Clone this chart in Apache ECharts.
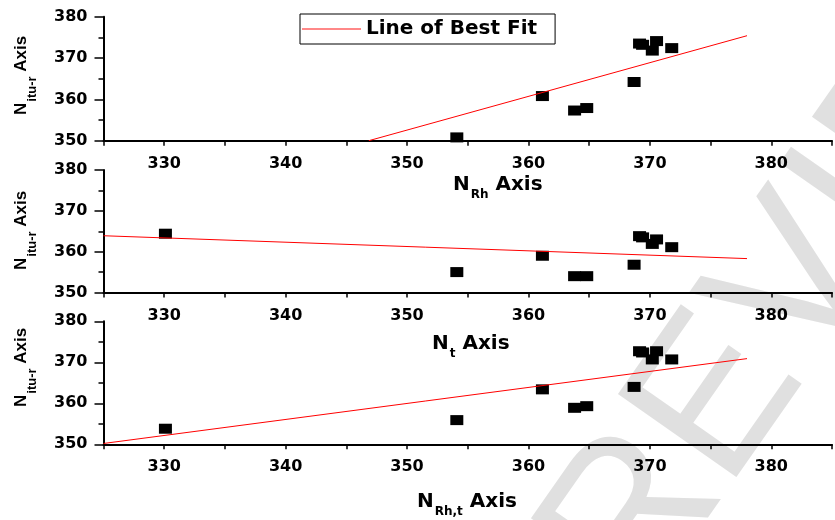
<!DOCTYPE html>
<html>
<head>
<meta charset="utf-8">
<style>
html, body { margin: 0; padding: 0; background: #fff; }
#main { width: 835px; height: 520px; }
</style>
<script src="https://cdn.jsdelivr.net/npm/echarts@6/dist/echarts.min.js"></script>
</head>
<body>
<div id="main"></div>
<script>
// axis ranges
const xRange = [325, 385];
const yRange = [350, 380];

// panel 1: N_Rh vs N_itu-r
const xRh = [354.1, 361.15, 363.8, 364.8, 368.7, 369.15, 369.4, 370.2, 370.55, 371.8];
const yRh = [350.8, 360.8, 357.3, 357.9, 364.2, 373.5, 373.2, 371.8, 374.1, 372.4];
// panels 2 and 3 share the x values
const xAll = [330.1, 354.1, 361.15, 363.8, 364.8, 368.7, 369.15, 369.4, 370.2, 370.55, 371.8];
const yT = [364.4, 355.0, 359.0, 354.0, 354.0, 356.8, 363.8, 363.5, 361.9, 363.0, 361.1];
const yRhT = [353.8, 355.9, 363.4, 358.9, 359.3, 364.0, 372.7, 372.4, 370.7, 372.7, 370.7];

// best fit lines, end points [x, y]
const fitRh = [[346.85, 350], [378, 375.4]];
const fitT = [[325, 363.9], [378, 358.3]];
const fitRhT = [[325, 350.2], [378, 370.9]];

const FIT = 'Line of Best Fit';
const zip = (xs, ys) => xs.map((x, i) => [x, ys[i]]);

const myChart = echarts.init(document.getElementById('main'));

// measure text for the hand placed axis titles
const ctx = document.createElement('canvas').getContext('2d');
function tw(text, font) {
  ctx.font = font;
  return ctx.measureText(text).width;
}
function axisTitle(x, y, sub, rot, big, small, family, dy) {
  const fBig = 'bold ' + big + 'px ' + family;
  const fSmall = 'bold ' + small + 'px ' + family;
  const wN = tw('N', fBig);
  const wS = tw(sub, fSmall);
  const piece = (text, font, px, py) => ({
    type: 'text', x: px, y: py,
    style: { text: text, font: font, fill: '#000', verticalAlign: 'middle' }
  });
  return {
    type: 'group', x: x, y: y, rotation: rot,
    children: [
      piece('N', fBig, 0, 0),
      piece(sub, fSmall, wN + 1, dy),
      piece(' Axis', fBig, wN + 1 + wS, 0)
    ]
  };
}

const grids = [
  { left: 103.5, right: -6.5, top: 16.7, height: 124 },
  { left: 103.5, right: -6.5, top: 170, height: 122.5 },
  { left: 103.5, right: -6.5, top: 321.3, height: 123 }
];

const labelFont = { color: '#000', fontSize: 16, fontWeight: 'bold', fontFamily: 'DejaVu Sans' };

const xAxes = grids.map((g, i) => ({
  gridIndex: i,
  type: 'value',
  min: xRange[0],
  max: xRange[1],
  interval: 5,
  axisLine: { onZero: false, lineStyle: { color: '#000', width: 2 } },
  axisTick: { length: 5, lineStyle: { color: '#000', width: 1.5 } },
  axisLabel: Object.assign({
    margin: 15,
    formatter: v => (v % 10 === 0 ? String(v) : '')
  }, labelFont),
  splitLine: { show: false }
}));

const yAxes = grids.map((g, i) => ({
  gridIndex: i,
  type: 'value',
  min: yRange[0],
  max: yRange[1],
  interval: 10,
  axisLine: { show: true, onZero: false, lineStyle: { color: '#000', width: 2 } },
  axisTick: { show: true, length: 9, lineStyle: { color: '#000', width: 1.5 } },
  minorTick: { show: true, splitNumber: 2, length: 5, lineStyle: { color: '#000', width: 1.5 } },
  axisLabel: Object.assign({ margin: 16 }, labelFont),
  splitLine: { show: false }
}));

const scatter = (i, data) => ({
  type: 'scatter',
  name: 'data' + i,
  xAxisIndex: i,
  yAxisIndex: i,
  symbol: 'rect',
  symbolSize: [13, 10],
  itemStyle: { color: '#000', opacity: 1 },
  data: data
});
const fit = (i, data) => ({
  type: 'line',
  name: FIT,
  xAxisIndex: i,
  yAxisIndex: i,
  symbol: 'none',
  color: '#ff0000',
  lineStyle: { color: '#ff0000', width: 1 },
  data: data
});

const dv = '"DejaVu Sans"';
const lib = '"Liberation Sans"';

myChart.setOption({
  animation: false,
  backgroundColor: '#fff',
  grid: grids,
  xAxis: xAxes,
  yAxis: yAxes,
  legend: {
    data: [FIT],
    left: 300,
    top: 14,
    padding: [5, 18, 5, 2],
    icon: 'rect',
    itemWidth: 59,
    itemHeight: 1.5,
    itemStyle: { color: '#ff6060' },
    borderColor: '#000',
    borderWidth: 1,
    backgroundColor: '#fff',
    textStyle: { color: '#000', fontSize: 20, fontWeight: 'bold', fontFamily: 'DejaVu Sans' }
  },
  graphic: [
    {
      type: 'text', x: 592, y: 582, rotation: 55 * Math.PI / 180, z: -10,
      style: { text: 'REVIEW', font: '210px ' + lib, fill: '#e0e0e0', verticalAlign: 'middle' }
    },
    axisTitle(453, 184.5, 'Rh', 0, 20, 12, dv, 10),
    axisTitle(432, 343.5, 't', 0, 20, 12, dv, 10),
    axisTitle(417, 501.5, 'Rh,t', 0, 20, 12, dv, 10),
    axisTitle(21, 115, 'itu-r', Math.PI / 2, 17, 13, lib, 11),
    axisTitle(21, 270, 'itu-r', Math.PI / 2, 17, 13, lib, 11),
    axisTitle(21, 407, 'itu-r', Math.PI / 2, 17, 13, lib, 11)
  ],
  series: [
    scatter(0, zip(xRh, yRh)),
    scatter(1, zip(xAll, yT)),
    scatter(2, zip(xAll, yRhT)),
    fit(0, fitRh),
    fit(1, fitT),
    fit(2, fitRhT)
  ]
});

window.addEventListener('resize', function() {
  myChart.resize();
});
</script>
</body>
</html>
